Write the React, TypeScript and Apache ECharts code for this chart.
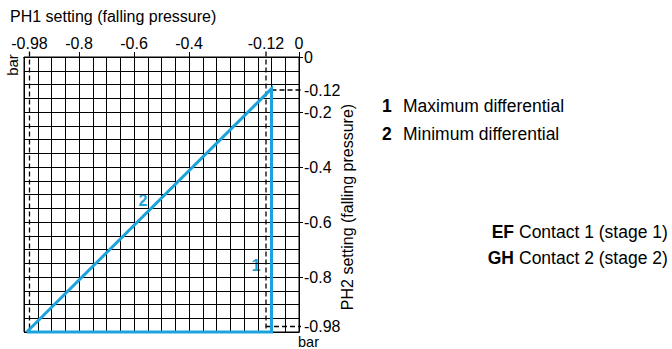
import React, { useEffect, useRef } from "react";
import * as echarts from "echarts";

const ph1TickLabels = [-0.98, -0.8, -0.6, -0.4, -0.12, 0];
const ph1TickMarks = [-0.8, -0.6, -0.4, 0];
const ph2TickLabels = [0, -0.12, -0.2, -0.4, -0.6, -0.8, -0.98];
const ph2TickMarks = [0, -0.2, -0.4, -0.6, -0.8];

// operating range outline (PH1, PH2)
const rangePH1 = [-0.99, -0.1, -0.1, -0.99];
const rangePH2 = [-1, -0.115, -1, -1];

// dashed reference lines
const refVerticalPH1 = [-0.98, -0.12];
const refHorizontal = [
  { ph2: -0.12, from: -0.1, to: 0.01 },
  { ph2: -0.98, from: -0.12, to: 0.01 },
];

const legendKeys = ["1", "2"];
const legendTexts = ["Maximum differential", "Minimum differential"];
const contactKeys = ["EF", "GH"];
const contactTexts = ["Contact 1 (stage 1)", "Contact 2 (stage 2)"];

const BLUE = "#1aa3dd";
const FONT = "'Liberation Sans', Arial, sans-serif";

export default function App() {
  const ref = useRef<HTMLDivElement>(null);
  useEffect(() => {
    if (!ref.current) return;
    const chart = echarts.init(ref.current, null, { renderer: "svg" });
    const dashStyle = { color: "#000", width: 1.3, type: [5, 3] as any };
    const dashSeries: any[] = [];
    refVerticalPH1.forEach((v) => {
      dashSeries.push({
        type: "line",
        xAxisIndex: 0,
        yAxisIndex: 0,
        data: [
          [v, 0.02],
          [v, -1],
        ],
        symbol: "none",
        clip: false,
        lineStyle: dashStyle,
        z: 3,
      });
    });
    refHorizontal.forEach((h) => {
      dashSeries.push({
        type: "line",
        xAxisIndex: 0,
        yAxisIndex: 0,
        data: [
          [h.from, h.ph2],
          [h.to, h.ph2],
        ],
        symbol: "none",
        clip: false,
        lineStyle: dashStyle,
        z: 3,
      });
    });
    const legendGraphics: any[] = [];
    legendKeys.forEach((k, i) => {
      const y = 106 + i * 27.5;
      legendGraphics.push({
        type: "text",
        x: 382,
        y,
        style: { text: k, fill: "#000", font: `bold 17.5px ${FONT}`, verticalAlign: "middle" },
      });
      legendGraphics.push({
        type: "text",
        x: 403,
        y,
        style: { text: legendTexts[i], fill: "#000", font: `17.5px ${FONT}`, verticalAlign: "middle" },
      });
    });
    contactKeys.forEach((k, i) => {
      const y = 231.5 + i * 26.5;
      legendGraphics.push({
        type: "text",
        x: 514,
        y,
        style: { text: k, fill: "#000", font: `bold 17.5px ${FONT}`, align: "right", verticalAlign: "middle" },
      });
      legendGraphics.push({
        type: "text",
        x: 519,
        y,
        style: { text: contactTexts[i], fill: "#000", font: `17.5px ${FONT}`, verticalAlign: "middle" },
      });
    });
    const option: any = {
      animation: false,
      textStyle: { fontFamily: FONT },
      grid: {
        left: 24,
        top: 57,
        width: 275,
        height: 275,
        show: true,
        borderColor: "#000",
        borderWidth: 1,
        backgroundColor: "transparent",
      },
      xAxis: [
        {
          type: "value",
          position: "bottom",
          min: -1,
          max: 0,
          interval: 0.05,
          axisLine: { show: true, lineStyle: { color: "#000", width: 1 } },
          axisTick: { show: false },
          axisLabel: { show: false },
          splitLine: { show: true, lineStyle: { color: "#000", width: 1 } },
        },
        {
          type: "value",
          position: "top",
          min: -1,
          max: 0,
          axisLine: { show: true, lineStyle: { color: "#000", width: 1 } },
          axisTick: {
            show: true,
            customValues: ph1TickMarks,
            length: 5,
            lineStyle: { color: "#000", width: 1 },
          },
          axisLabel: {
            show: true,
            customValues: ph1TickLabels,
            formatter: (v: number) => String(v),
            color: "#000",
            fontSize: 16,
            margin: 6,
            fontFamily: FONT,
          },
          splitLine: { show: false },
        },
      ],
      yAxis: [
        {
          type: "value",
          position: "left",
          min: -1,
          max: 0,
          interval: 0.05,
          axisLine: { show: true, lineStyle: { color: "#000", width: 1 } },
          axisTick: { show: false },
          axisLabel: { show: false },
          splitLine: { show: true, lineStyle: { color: "#000", width: 1 } },
        },
        {
          type: "value",
          position: "right",
          min: -1,
          max: 0,
          axisLine: { show: true, lineStyle: { color: "#000", width: 1 } },
          axisTick: {
            show: true,
            customValues: ph2TickMarks,
            length: 4,
            lineStyle: { color: "#000", width: 1 },
          },
          axisLabel: {
            show: true,
            customValues: ph2TickLabels,
            formatter: (v: number) => String(v),
            color: "#000",
            fontSize: 16,
            margin: 5,
            lineHeight: 16,
            fontFamily: FONT,
          },
          splitLine: { show: false },
        },
      ],
      series: [
        ...dashSeries,
        {
          type: "line",
          xAxisIndex: 0,
          yAxisIndex: 0,
          data: rangePH1.map((x, i) => [x, rangePH2[i]]),
          symbol: "none",
          clip: false,
          lineStyle: { color: BLUE, width: 3, join: "miter" },
          z: 4,
        },
      ],
      graphic: [
        {
          type: "text",
          x: 10,
          y: 16,
          style: {
            text: "PH1 setting (falling pressure)",
            fill: "#000",
            font: `16px ${FONT}`,
            verticalAlign: "middle",
          },
        },
        {
          type: "text",
          x: 12,
          y: 65,
          rotation: Math.PI / 2,
          style: { text: "bar", fill: "#000", font: `15px ${FONT}`, align: "center", verticalAlign: "middle" },
        },
        {
          type: "text",
          x: 298,
          y: 349,
          style: {
            text: "bar",
            fill: "#000",
            font: `14.5px ${FONT}`,
            lineHeight: 14,
            align: "left",
            verticalAlign: "bottom",
          },
        },
        {
          type: "text",
          x: 347,
          y: 207,
          rotation: Math.PI / 2,
          style: {
            text: "PH2 setting (falling pressure)",
            fill: "#000",
            font: `16px ${FONT}`,
            align: "center",
            verticalAlign: "middle",
          },
        },
        {
          type: "text",
          x: 256,
          y: 265,
          style: { text: "1", fill: BLUE, font: `bold 16px ${FONT}`, align: "center", verticalAlign: "middle" },
        },
        {
          type: "text",
          x: 143,
          y: 200,
          style: { text: "2", fill: BLUE, font: `bold 16px ${FONT}`, align: "center", verticalAlign: "middle" },
        },
        ...legendGraphics,
      ],
    };
    chart.setOption(option);
    return () => chart.dispose();
  }, []);
  return (
    <div
      ref={ref}
      style={{ position: "absolute", left: 0, top: 0, width: 672, height: 349 }}
    />
  );
}
